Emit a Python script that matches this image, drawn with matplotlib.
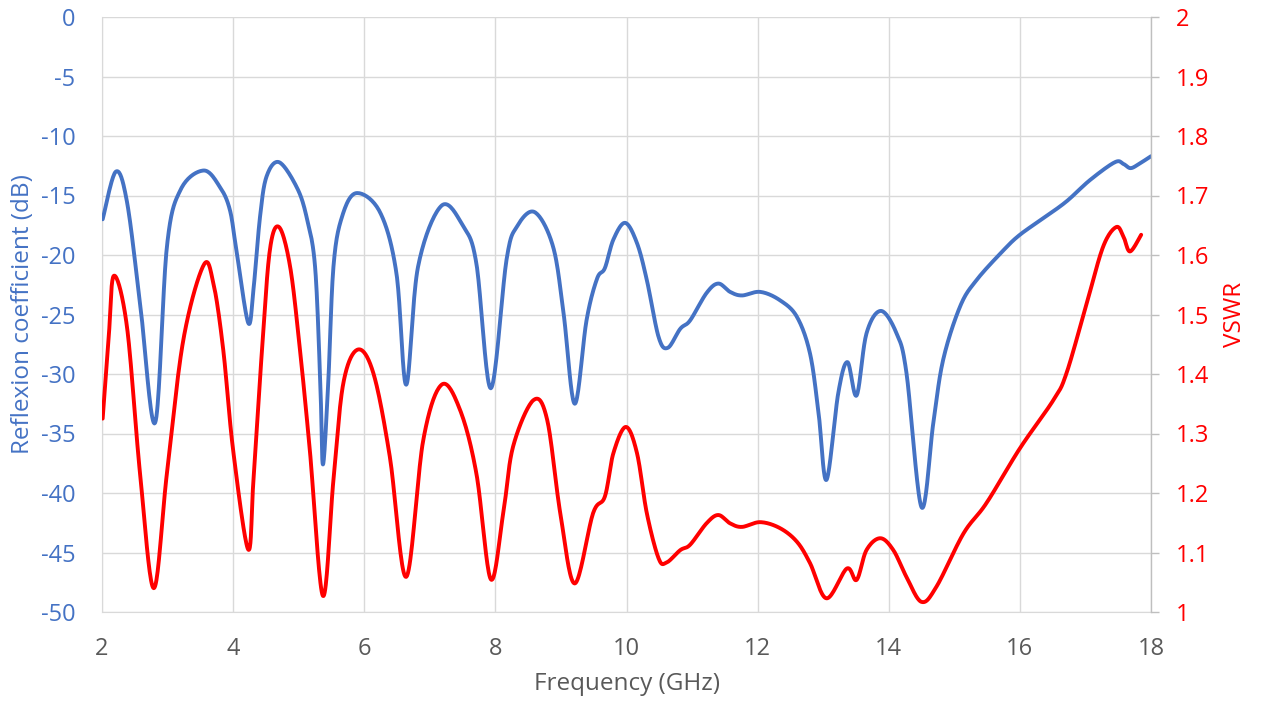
import numpy as np
import matplotlib
matplotlib.use("Agg")
import matplotlib.pyplot as plt

# ---- data ----
freq_rc = [2.01, 2.21, 2.38, 2.58, 2.81, 2.99, 3.2, 3.55, 3.80, 3.95, 4.05, 4.23, 4.31, 4.41, 4.51,
           4.70, 4.97, 5.12, 5.25, 5.33, 5.37, 5.45, 5.53, 5.66, 5.88, 6.24, 6.49, 6.64, 6.82, 7.18,
           7.51, 7.71, 7.93, 8.17, 8.33, 8.60, 8.88, 9.04, 9.21, 9.39, 9.55, 9.67, 9.80, 9.98, 10.16,
           10.31, 10.49, 10.63, 10.82, 10.97, 11.22, 11.40, 11.58, 11.76, 12.04, 12.34, 12.60, 12.80,
           12.93, 13.05, 13.23, 13.37, 13.51, 13.66, 13.88, 14.12, 14.27, 14.50, 14.68, 14.83, 15.09,
           15.34, 15.75, 16.00, 16.36, 16.71, 17.07, 17.45, 17.58, 17.69, 17.83, 18.0]
rc_db = [-17.0, -13.0, -15.5, -24.0, -34.1, -19.3, -14.5, -12.9, -14.3, -16.2, -19.6, -25.7, -22.9,
         -16.8, -13.4, -12.2, -14.3, -16.8, -21.0, -30.8, -37.6, -30.8, -21.0, -16.8, -14.8, -16.4,
         -21.5, -30.9, -21.0, -15.85, -17.6, -20.7, -31.2, -20.4, -17.6, -16.4, -19.3, -24.9, -32.5,
         -25.5, -22.0, -21.1, -18.7, -17.3, -19.0, -22.1, -26.9, -27.8, -26.2, -25.5, -23.2, -22.4,
         -23.1, -23.4, -23.1, -23.8, -25.2, -28.3, -33.3, -38.9, -31.6, -29.0, -31.8, -26.6, -24.7,
         -26.6, -29.9, -41.2, -34.1, -28.8, -24.3, -22.1, -19.6, -18.3, -16.9, -15.5, -13.7, -12.2,
         -12.35, -12.7, -12.3, -11.7]

freq_vswr = [2.01, 2.10, 2.18, 2.38, 2.58, 2.79, 2.99, 3.24, 3.55, 3.70, 3.85, 4.00, 4.23, 4.31, 4.44,
             4.56, 4.70, 4.87, 5.02, 5.17, 5.37, 5.53, 5.68, 5.90, 6.14, 6.39, 6.64, 6.90, 7.18, 7.46,
             7.71, 7.93, 8.12, 8.27, 8.58, 8.79, 8.99, 9.21, 9.49, 9.67, 9.80, 9.99, 10.16, 10.31, 10.49,
             10.61, 10.82, 10.97, 11.22, 11.40, 11.58, 11.76, 12.04, 12.34, 12.60, 12.80, 13.05, 13.36,
             13.51, 13.66, 13.87, 14.07, 14.27, 14.50, 14.73, 15.14, 15.49, 16.00, 16.51, 16.71, 17.02,
             17.27, 17.47, 17.58, 17.68, 17.85]
vswr = [1.325, 1.457, 1.565, 1.480, 1.233, 1.040, 1.233, 1.457, 1.583, 1.552, 1.440, 1.272, 1.105, 1.222,
        1.440, 1.608, 1.647, 1.580, 1.440, 1.272, 1.027, 1.222, 1.384, 1.441, 1.401, 1.261, 1.059, 1.289,
        1.382, 1.340, 1.233, 1.055, 1.166, 1.278, 1.356, 1.323, 1.166, 1.048, 1.166, 1.194, 1.267, 1.311,
        1.267, 1.166, 1.090, 1.083, 1.104, 1.113, 1.149, 1.163, 1.149, 1.143, 1.151, 1.141, 1.118, 1.082,
        1.023, 1.073, 1.054, 1.104, 1.124, 1.104, 1.059, 1.017, 1.043, 1.132, 1.183, 1.275, 1.356, 1.401,
        1.519, 1.614, 1.647, 1.631, 1.606, 1.634]

x_ticks = [2, 4, 6, 8, 10, 12, 14, 16, 18]
left_ticks = [0, -5, -10, -15, -20, -25, -30, -35, -40, -45, -50]
right_ticks = [2, 1.9, 1.8, 1.7, 1.6, 1.5, 1.4, 1.3, 1.2, 1.1, 1]

BLUE = "#4472C4"
RED = "#FF0000"
GRAY = "#595959"
GRID = "#D9D9D9"

plt.rcParams['font.family'] = ['Open Sans', 'DejaVu Sans']


def smooth(x, y, xr, yr, aspect, n=20):
    """Excel-like smoothed line (Catmull-Rom through the points, in screen-like space)."""
    x = np.asarray(x, float); y = np.asarray(y, float)
    sx = (x - xr[0]) / (xr[1] - xr[0]) * aspect
    sy = (y - yr[0]) / (yr[1] - yr[0])
    P = np.column_stack([sx, sy])
    P = np.vstack([P[0], P, P[-1]])
    out = []
    t = np.linspace(0, 1, n, endpoint=False)[:, None]
    for i in range(1, len(P) - 2):
        p0, p1, p2, p3 = P[i - 1], P[i], P[i + 1], P[i + 2]
        seg = 0.5 * ((2 * p1) + (-p0 + p2) * t + (2 * p0 - 5 * p1 + 4 * p2 - p3) * t ** 2
                     + (-p0 + 3 * p1 - 3 * p2 + p3) * t ** 3)
        out.append(seg)
    out.append(P[-2][None, :])
    out = np.vstack(out)
    xs = out[:, 0] / aspect * (xr[1] - xr[0]) + xr[0]
    ys = out[:, 1] * (yr[1] - yr[0]) + yr[0]
    return xs, ys


fig = plt.figure(figsize=(12.62, 7.06), dpi=100)
ax = fig.add_axes([102 / 1262, 1 - 612 / 706, (1151 - 102) / 1262, (612 - 17) / 706])
ax2 = ax.twinx()

aspect = (1151 - 102) / (612 - 17)
xs, ys = smooth(freq_rc, rc_db, (2, 18), (-50, 0), aspect)
ax.plot(xs, ys, color=BLUE, lw=2.8, solid_capstyle='round', zorder=3)
xs2, ys2 = smooth(freq_vswr, vswr, (2, 18), (1, 2), aspect)
ax2.plot(xs2, ys2, color=RED, lw=2.8, solid_capstyle='round', zorder=3)

ax.set_xlim(2, 18)
ax.set_ylim(-50, 0)
ax2.set_ylim(1, 2)
ax.set_xticks(x_ticks)
ax.set_xticklabels([str(v) for v in x_ticks])
ax.set_yticks(left_ticks)
ax.set_yticklabels([str(v) for v in left_ticks])
ax2.set_yticks(right_ticks)
ax2.set_yticklabels([f"{v:g}" for v in right_ticks])

ax.grid(True, color=GRID, lw=1.0, zorder=0)
ax.set_axisbelow(True)

for s in ['top']:
    ax.spines[s].set_visible(False)
    ax2.spines[s].set_visible(False)
ax.spines['left'].set_color(GRID)
ax.spines['bottom'].set_color(GRID)
ax.spines['right'].set_visible(False)
ax2.spines['left'].set_visible(False)
ax2.spines['bottom'].set_visible(False)
ax2.spines['right'].set_color("#BFBFBF")
ax2.spines['right'].set_linewidth(1.0)

ax.tick_params(axis='x', length=0, pad=18, labelsize=17, labelcolor=GRAY)
ax.tick_params(axis='y', length=0, pad=19, labelsize=17, labelcolor=BLUE)
ax2.tick_params(axis='y', length=6, width=1.0, color="#BFBFBF", pad=12, labelsize=17, labelcolor=RED)

ax.set_xlabel("Frequency (GHz)", fontsize=17.5, color=GRAY, labelpad=8)
ax.set_ylabel("Reflexion coefficient (dB)", fontsize=17.5, color=BLUE, labelpad=4)
ax2.set_ylabel("VSWR", fontsize=17.5, color=RED, labelpad=10)

fig.savefig("out.png", dpi=100, facecolor="white")
